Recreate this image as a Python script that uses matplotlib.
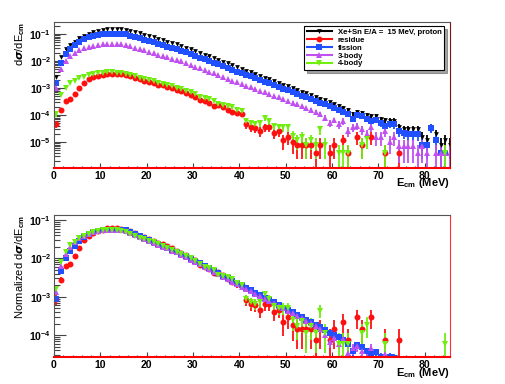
import numpy as np
import matplotlib
matplotlib.use("Agg")
import matplotlib.pyplot as plt
from matplotlib.lines import Line2D
from matplotlib.ticker import FixedLocator, FuncFormatter, LogLocator, NullFormatter

plt.rcParams['font.family'] = ['Liberation Sans', 'DejaVu Sans']
plt.rcParams['font.weight'] = 'bold'
plt.rcParams['mathtext.fontset'] = 'custom'
plt.rcParams['mathtext.rm'] = 'Liberation Sans:bold'
plt.rcParams['mathtext.bf'] = 'Liberation Sans:bold'

# E_cm bins, 1 MeV wide
e_lo = 0
n_bins = 86

total = [2.6e-3, 1.4e-2, 2.7e-2, 3.9e-2, 5.2e-2, 6.9e-2, 8.7e-2, 0.10, 0.115, 0.13,
         0.14, 0.15, 0.155, 0.155, 0.152, 0.145, 0.133, 0.12, 0.108, 0.096,
         0.085, 0.076, 0.067, 0.060, 0.053, 0.047, 0.042, 0.036, 0.031, 0.027,
         0.023, 0.020, 0.0172, 0.0148, 0.0128, 0.011, 0.0095, 0.0082, 0.0070, 0.0060,
         0.0052, 0.0044, 0.0038, 0.0033, 0.0028, 0.0024, 0.0021, 0.0018, 0.00155, 0.00135,
         0.00115, 0.0010, 0.00085, 0.00074, 0.00064, 0.00056, 0.00048, 0.00041, 0.00035, 0.00030,
         0.00026, 0.00022, 0.00019, 0.00016, 0.00011, 0.00013, 0.00012, 0.00010, 9e-5, 9e-5,
         7e-5, 6.5e-5, 6e-5, 6e-5, 3.5e-5, 3e-5, 3e-5, 3e-5, 3e-5, 1.6e-5,
         1.2e-5, 3.6e-5, 2e-5, 8e-6, 1.2e-5, 8e-6]

residue = [4.7e-5, 1.5e-4, 3.4e-4, 3.9e-4, 6.3e-4, 1.0e-3, 1.6e-3, 2.1e-3, 2.5e-3, 2.8e-3,
           3.0e-3, 3.3e-3, 3.4e-3, 3.3e-3, 3.2e-3, 3.0e-3, 2.7e-3, 2.4e-3, 2.1e-3, 1.9e-3,
           1.7e-3, 1.55e-3, 1.35e-3, 1.25e-3, 1.1e-3, 1.0e-3, 8.5e-4, 7.5e-4, 6.5e-4, 5.5e-4,
           4.8e-4, 3.6e-4, 3.2e-4, 2.8e-4, 2.2e-4, 2.4e-4, 2.0e-4, 1.6e-4, 1.3e-4, 1.15e-4,
           1.1e-4, 4.5e-5, 3.5e-5, 3.3e-5, 2.5e-5, 3.5e-5, 3.5e-5, 2.2e-5, 2.5e-5, 1.2e-5,
           1.6e-5, 1.0e-5, 8e-6, 8e-6, 8e-6, 8e-6, 4e-6, 8e-6, 0, 4e-6,
           8e-6, 0, 1.2e-5, 4e-6, 0, 1.6e-5, 8e-6, 0, 1.6e-5, 0,
           0, 4e-6, 0, 0, 4e-6, 0, 0, 0, 0, 0,
           0, 0, 0, 0, 0, 0]

fission = [1.6e-3, 8.3e-3, 1.9e-2, 2.8e-2, 3.9e-2, 5.2e-2, 6.5e-2, 7.7e-2, 8.7e-2, 9.4e-2,
           0.098, 0.10, 0.10, 0.10, 0.10, 0.097, 0.088, 0.079, 0.070, 0.062,
           0.055, 0.049, 0.044, 0.039, 0.034, 0.030, 0.027, 0.024, 0.021, 0.018,
           0.0155, 0.0135, 0.0116, 0.010, 0.0087, 0.0075, 0.0065, 0.0056, 0.0048, 0.0041,
           0.0036, 0.0031, 0.0027, 0.0023, 0.0020, 0.0017, 0.0015, 0.0013, 0.0011, 0.00095,
           0.00082, 0.00071, 0.00061, 0.00053, 0.00045, 0.00039, 0.00033, 0.00029, 0.00025, 0.00021,
           0.00018, 0.00016, 0.000135, 0.00011, 7e-5, 1.0e-4, 9e-5, 7e-5, 6e-5, 6.5e-5,
           5e-5, 4e-5, 4.8e-5, 4.5e-5, 2.6e-5, 2.2e-5, 2.0e-5, 2.0e-5, 2.0e-5, 8e-6,
           8e-6, 3.4e-5, 1.2e-5, 4e-6, 4e-6, 0]

body3 = [1.0e-3, 5.0e-3, 1.0e-2, 1.5e-2, 2.05e-2, 2.6e-2, 3.0e-2, 3.4e-2, 3.7e-2, 4.0e-2,
         4.2e-2, 4.3e-2, 4.3e-2, 4.3e-2, 4.2e-2, 3.9e-2, 3.5e-2, 3.1e-2, 2.8e-2, 2.5e-2,
         2.2e-2, 1.95e-2, 1.75e-2, 1.55e-2, 1.4e-2, 1.23e-2, 1.1e-2, 9.7e-3, 8.4e-3, 7.2e-3,
         6.2e-3, 5.4e-3, 4.7e-3, 4.0e-3, 3.5e-3, 3.0e-3, 2.6e-3, 2.2e-3, 1.9e-3, 1.65e-3,
         1.43e-3, 1.23e-3, 1.07e-3, 9.2e-4, 8.0e-4, 6.9e-4, 6.0e-4, 5.2e-4, 4.5e-4, 3.9e-4,
         3.3e-4, 2.9e-4, 2.5e-4, 2.1e-4, 1.8e-4, 1.6e-4, 1.3e-4, 1.1e-4, 8e-5, 5e-5,
         6.5e-5, 4.5e-5, 6e-5, 2.6e-5, 3.5e-5, 4e-5, 3e-5, 2e-5, 3.5e-5, 1.5e-5,
         1.5e-5, 2.5e-5, 1e-5, 1.5e-5, 7e-6, 7e-6, 7e-6, 7e-6, 4e-6, 7e-6,
         4e-6, 0, 4e-6, 4e-6, 4e-6, 4e-6]

body4 = [1.07e-4, 5.5e-4, 1.0e-3, 1.5e-3, 1.85e-3, 2.3e-3, 2.6e-3, 3.0e-3, 3.3e-3, 3.5e-3,
         3.7e-3, 3.8e-3, 3.8e-3, 3.7e-3, 3.6e-3, 3.3e-3, 3.0e-3, 2.7e-3, 2.4e-3, 2.2e-3,
         2.0e-3, 1.8e-3, 1.6e-3, 1.45e-3, 1.3e-3, 1.15e-3, 1.0e-3, 9e-4, 8e-4, 7e-4,
         6e-4, 4.8e-4, 4.2e-4, 3.8e-4, 3.4e-4, 2.6e-4, 2.4e-4, 2.2e-4, 2.0e-4, 1.6e-4,
         1.4e-4, 6e-5, 5e-5, 4.5e-5, 5e-5, 8e-5, 6e-5, 4e-5, 3.5e-5, 3.5e-5,
         3.5e-5, 1.7e-5, 1.2e-5, 1.6e-5, 8e-6, 1.2e-5, 8e-6, 3e-5, 8e-6, 0,
         0, 4e-6, 4e-6, 4e-6, 0, 0, 8e-6, 1.3e-5, 0, 0,
         0, 4e-6, 0, 0, 0, 0, 0, 0, 0, 0,
         0, 0, 0, 0, 4e-6, 0]

labels = ['Xe+Sn E/A =  15 MeV, proton', 'residue', 'fission', '3-body', '4-body']
colors = ['black', '#ff1010', '#2050ff', '#c050f0', '#70ee10']
markers = ['v', 'o', 's', '^', 'v']
msizes = [3.4, 4.3, 4.5, 3.8, 4.6]
# weight of a single entry, sets the size of the error bars
unit = 4e-6

x = np.arange(n_bins) + e_lo + 0.5
series = [total, residue, fission, body3, body4]

fig = plt.figure(figsize=(5.06, 3.84), dpi=100)
ax1 = fig.add_axes([54/506, 1-168/384, 396/506, 146/384])
ax2 = fig.add_axes([54/506, 1-357/384, 396/506, 142/384])


def draw(ax, y, c, m, ms, norm=1.0):
    y = np.array(y, dtype=float)
    err = np.sqrt(y / unit) * unit
    ok = y > 0
    yy = y[ok] / norm
    ee = err[ok] / norm
    lo = np.minimum(ee, yy * 0.999)
    ax.errorbar(x[ok], yy, yerr=[lo, ee], fmt=m, color=c, ms=ms,
                mew=0, elinewidth=1.3, capsize=0)


for y, c, m, ms in zip(series, colors, markers, msizes):
    draw(ax1, y, c, m, ms)
for y, c, m, ms in zip(series[1:], colors[1:], markers[1:], msizes[1:]):
    draw(ax2, y, c, m, ms, norm=np.sum(y))

sup = FuncFormatter(lambda v, p: r'$\mathbf{10^{%d}}$' % round(np.log10(v)))
for ax, ylo, yhi in [(ax1, 1.1e-6, 0.28), (ax2, 2.7e-5, 0.135)]:
    ax.set_yscale('log')
    ax.set_xlim(0, 85.5)
    ax.set_ylim(ylo, yhi)
    ax.yaxis.set_major_locator(LogLocator(base=10, numticks=12))
    ax.yaxis.set_minor_locator(LogLocator(base=10, subs=np.arange(2, 10), numticks=12))
    ax.yaxis.set_major_formatter(sup)
    ax.yaxis.set_minor_formatter(NullFormatter())
    ax.xaxis.set_major_locator(FixedLocator([0, 10, 20, 30, 40, 50, 60, 70, 80]))
    ax.xaxis.set_minor_locator(FixedLocator(np.arange(0, 86, 2)))
    ax.tick_params(axis='both', which='both', direction='in', labelsize=7.5,
                   top=False, right=False, color='#444444')
    ax.tick_params(axis='y', which='major', length=8.5, width=0.8, pad=2)
    ax.tick_params(axis='y', which='minor', length=4.3, width=0.8)
    ax.tick_params(axis='x', which='major', length=3.5, width=0.8, pad=2)
    ax.tick_params(axis='x', which='minor', length=1.8, width=0.8)
    for s in ['top', 'left']:
        ax.spines[s].set_color('#555555')
    ax.spines['bottom'].set_color('red')
    ax.spines['bottom'].set_linewidth(1.5)

ax1.spines['right'].set_color('#801010')
ax2.spines['right'].set_color('#ff3030')
for lab in ax1.get_xticklabels() + ax2.get_xticklabels():
    lab.set_fontweight('bold')

ax1.set_ylabel(r'd$\sigma$/dE$_{\mathbf{cm}}$', fontsize=8, loc='top', labelpad=2)
ax2.set_ylabel(r'Normalized d$\sigma$/dE$_{\mathbf{cm}}$', fontsize=8, loc='top', labelpad=2)
ax1.text(1.0, -0.1, r'E$_{\mathbf{cm}}$ (MeV)', transform=ax1.transAxes,
         ha='right', va='center', fontsize=8)
ax2.text(1.0, -0.11, r'E$_{\mathbf{cm}}$ (MeV)', transform=ax2.transAxes,
         ha='right', va='center', fontsize=8)

handles = [Line2D([], [], color=c, marker=m, ms=ms, mew=0, lw=1.5)
           for c, m, ms in zip(colors, markers, msizes)]
leg = ax1.legend(handles, labels, loc='upper right', bbox_to_anchor=(0.985, 0.97),
                 fontsize=5.6, frameon=True, fancybox=False, shadow=True,
                 handlelength=3.2, handletextpad=0.8, borderpad=0.3,
                 labelspacing=0.05, borderaxespad=0)
leg.get_frame().set_edgecolor('black')
leg.get_frame().set_linewidth(0.8)

fig.savefig('out.png', dpi=100)
